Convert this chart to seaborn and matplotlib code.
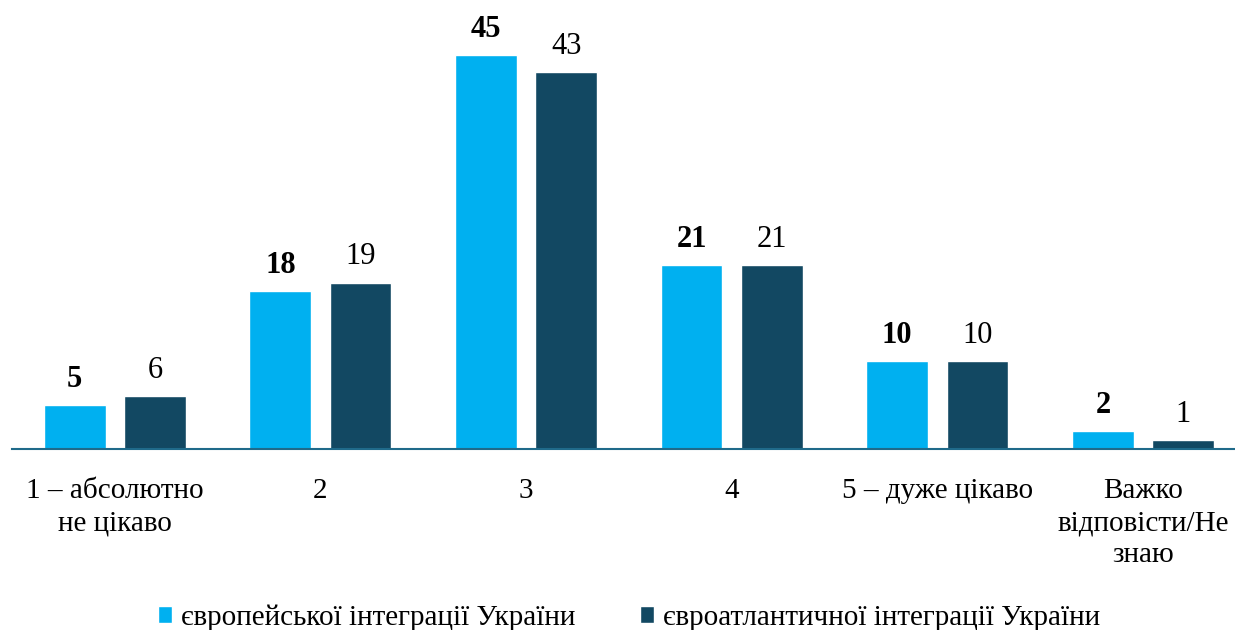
import pandas as pd
import matplotlib
matplotlib.use('Agg')
import matplotlib.pyplot as plt
import seaborn as sns

categories = ['1 – абсолютно\nне цікаво', '2', '3', '4', '5 – дуже цікаво',
              'Важко\nвідповісти/Не\nзнаю']
series_names = ['європейської інтеграції України', 'євроатлантичної інтеграції України']
eu_values = [5, 18, 45, 21, 10, 2]
nato_values = [6, 19, 43, 21, 10, 1]
colors = ['#00B0F0', '#124862']

df = pd.DataFrame({
    'category': categories * 2,
    'series': [series_names[0]] * len(categories) + [series_names[1]] * len(categories),
    'value': eu_values + nato_values,
})

sns.set_style('white')
plt.rcParams['font.family'] = ['Liberation Serif', 'DejaVu Serif']
plt.rcParams['text.color'] = 'black'
plt.rcParams['xtick.color'] = 'black'

fig = plt.figure(figsize=(12.35, 6.3), dpi=100)
ax = fig.add_axes([0.0097, 0.2873, 0.999, 0.6952])

sns.barplot(data=df, x='category', y='value', hue='series', order=categories,
            hue_order=series_names, palette=colors, width=0.78, gap=0.23,
            saturation=1, ax=ax, legend=True)

ax.set_xlim(-0.5, 5.5)
ax.set_ylim(0, 50)
ax.set_xlabel('')
ax.set_ylabel('')
ax.set_yticks([])
for s in ['top', 'right', 'left']:
    ax.spines[s].set_visible(False)
ax.spines['bottom'].set_color('#1F6A8A')
ax.spines['bottom'].set_linewidth(1.5)
ax.tick_params(axis='x', length=0, pad=21, labelsize=21, labelcolor='black')
for lbl in ax.get_xticklabels():
    lbl.set_linespacing(1.3)

for i, cont in enumerate(ax.containers):
    for bar, v in zip(cont, [eu_values, nato_values][i]):
        ax.annotate(str(v), (bar.get_x() + bar.get_width() / 2, bar.get_height()),
                    xytext=(0, 8), textcoords='offset points', ha='center', va='bottom',
                    fontsize=22, fontweight='bold' if i == 0 else 'normal', color='black')

leg = ax.legend(loc='lower center', bbox_to_anchor=(0.5, -0.475), ncol=2, frameon=False,
                fontsize=21, handlelength=0.5, handleheight=0.5, handletextpad=0.3,
                columnspacing=2.2)
for t in leg.get_texts():
    t.set_color('black')

plt.savefig('out.png', dpi=100, facecolor='white')
plt.close()
